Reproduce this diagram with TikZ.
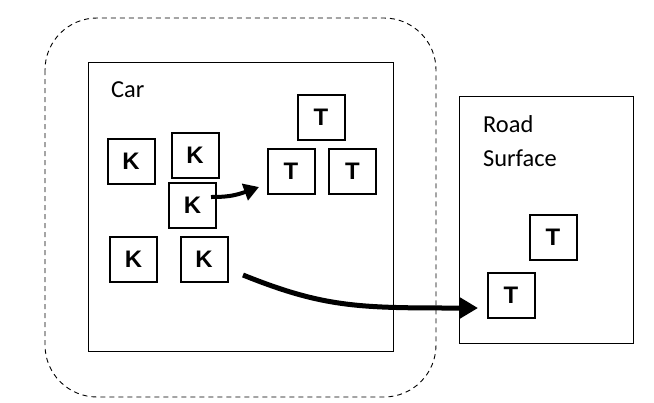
\documentclass[tikz,border=0pt]{standalone}
\usepackage{fontspec}
\setmainfont{Carlito}
\newfontfamily\boxfont{Liberation Sans}
\usetikzlibrary{arrows.meta}
\tikzset{
  x=1bp,y=-1bp,
  letterbox/.style={draw,line width=2bp,inner sep=0pt,minimum width=47bp,minimum height=45bp,font=\boxfont\bfseries\fontsize{24}{26}\selectfont},
  areabox/.style={draw,line width=1bp},
  label/.style={anchor=west,inner sep=0pt,font=\fontsize{24.5}{27}\selectfont},
  bigarrow/.style={line width=5bp,-{Triangle[length=18bp,width=20bp]}},
  smallarrow/.style={line width=4bp,-{Triangle[length=15bp,width=17bp]}}
}
\begin{document}
\begin{tikzpicture}
\useasboundingbox (0,0) rectangle (654,402);
\draw[dashed,dash pattern=on 5bp off 4bp,line width=0.9bp,rounded corners=52bp] (45,18) rectangle (436,397);
\draw[areabox] (88,62) rectangle (393,351);
\draw[areabox] (459,96) rectangle (633,343);
\node[label] (car) at (111,90) {Car};
\node[label] (road) at (483,124) {Road};
\node[label] (surface) at (483,158) {Surface};
\node[letterbox] (K1) at (131,161) {K};
\node[letterbox] (K2) at (195,155) {K};
\node[letterbox] (K3) at (192.5,205.5) {K};
\node[letterbox] (K4) at (133.5,259) {K};
\node[letterbox] (K5) at (204,259) {K};
\node[letterbox] (Ttop) at (321,117) {T};
\node[letterbox] (Tleft) at (291,171) {T};
\node[letterbox] (Tright) at (352.5,171) {T};
\node[letterbox] (R1) at (553,237) {T};
\node[letterbox] (R2) at (511,295) {T};
\coordinate (a1s) at (211,197);
\coordinate (a1e) at (259,187);
\coordinate (a2s) at (243,275);
\coordinate (a2e) at (478,308);
\draw[smallarrow] (a1s) .. controls (226,197) and (234,196) .. (a1e);
\draw[bigarrow] (a2s) .. controls (325,308) and (360,308) .. (a2e);
\end{tikzpicture}
\end{document}
